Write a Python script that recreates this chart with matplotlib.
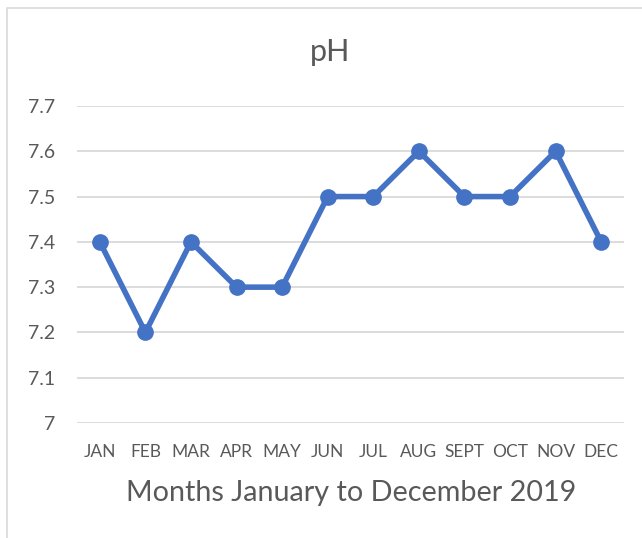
import matplotlib
matplotlib.use("Agg")
import matplotlib.pyplot as plt
from matplotlib.patches import Rectangle

months = ["JAN", "FEB", "MAR", "APR", "MAY", "JUN", "JUL", "AUG", "SEPT", "OCT", "NOV", "DEC"]
ph = [7.4, 7.2, 7.4, 7.3, 7.3, 7.5, 7.5, 7.6, 7.5, 7.5, 7.6, 7.4]
yticks = [7, 7.1, 7.2, 7.3, 7.4, 7.5, 7.6, 7.7]
ytick_labels = ["7", "7.1", "7.2", "7.3", "7.4", "7.5", "7.6", "7.7"]

plt.rcParams['font.family'] = ['Lato', 'DejaVu Sans']
txt = "#595959"
fig = plt.figure(figsize=(6.42, 5.38), dpi=100)
fig.patches.append(Rectangle((7/642, -0.05), 1.2, 1 - 8/538 + 0.05, transform=fig.transFigure,
                             fill=False, edgecolor="#d9d9d9", linewidth=1.2))
ax = fig.add_axes([77/642, 1 - 423/538, (624 - 77)/642, (423 - 106)/538])
x = list(range(len(months)))
ax.plot(x, ph, color="#4472C4", linewidth=4.0, marker="o", markersize=11, zorder=3)
ax.set_xlim(-0.5, len(months) - 0.5)
ax.set_ylim(7, 7.7)
ax.set_yticks(yticks)
ax.set_yticklabels(ytick_labels)
ax.set_xticks(x)
ax.set_xticklabels(months)
ax.grid(axis="y", color="#d9d9d9", linewidth=1.3)
ax.set_axisbelow(True)
for s in ax.spines.values():
    s.set_visible(False)
ax.tick_params(axis="both", length=0, colors=txt)
ax.tick_params(axis="y", labelsize=14, pad=16)
ax.tick_params(axis="x", labelsize=12.5, pad=15)
fig.text(330/642, 1 - 52/538, "pH", ha="center", va="center", fontsize=22, color=txt)
fig.text(351/642, 1 - 493/538, "Months January to December 2019", ha="center", va="center",
         fontsize=20.7, color=txt)
fig.savefig("out.png", dpi=100)
